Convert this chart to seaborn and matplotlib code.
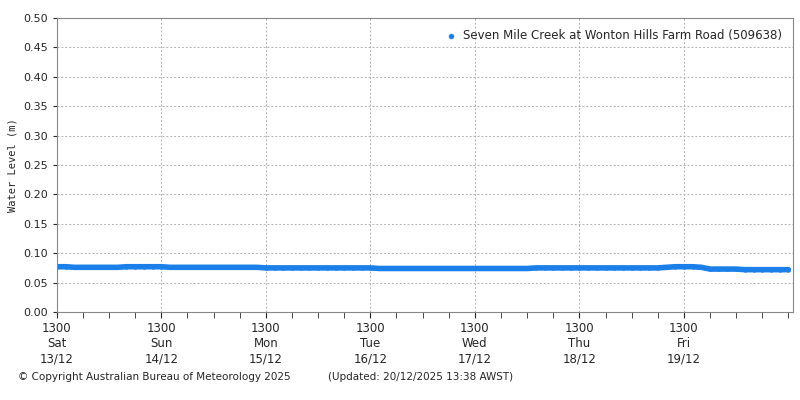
import numpy as np
import pandas as pd
import matplotlib
matplotlib.use("Agg")
import matplotlib.pyplot as plt
import matplotlib.dates as mdates
import seaborn as sns

sns.set_style("white")
plt.rcParams['font.family'] = ['DejaVu Sans']

start = "2025-12-13 13:00"
level_sat = [0.077,0.077,0.076,0.076,0.076,0.076,0.076,0.076,0.077,0.077,0.077,0.077]
level_sun = [0.077,0.076,0.076,0.076,0.076,0.076,0.076,0.076,0.076,0.076,0.076,0.076]
level_mon = [0.075,0.075,0.075,0.075,0.075,0.075,0.075,0.075,0.075,0.075,0.075,0.075]
level_tue = [0.075,0.074,0.074,0.074,0.074,0.074,0.074,0.074,0.074,0.074,0.074,0.074]
level_wed = [0.074,0.074,0.074,0.074,0.074,0.074,0.074,0.075,0.075,0.075,0.075,0.075]
level_thu = [0.075,0.075,0.075,0.075,0.075,0.075,0.075,0.075,0.075,0.075,0.076,0.077]
level_fri = [0.077,0.077,0.076,0.073,0.073,0.073,0.073,0.072,0.072,0.072,0.072,0.072]
level_end = [0.072]
series_name = "Seven Mile Creek at Wonton Hills Farm Road (509638)"

levels = level_sat+level_sun+level_mon+level_tue+level_wed+level_thu+level_fri+level_end
times = pd.date_range(start, periods=len(levels), freq="2h")
df = pd.DataFrame({"time": times, "level": levels})

fig, ax = plt.subplots(figsize=(8, 4), dpi=100)
fig.subplots_adjust(left=0.071, right=0.991, top=0.955, bottom=0.22)
col = "#1a7fe8"
sns.lineplot(data=df, x="time", y="level", ax=ax, color=col, linewidth=4, legend=False)
sns.scatterplot(data=df, x="time", y="level", ax=ax, color=col, s=8, edgecolor=col, label=series_name)

t0 = pd.Timestamp(start)
ax.set_xlim(t0, pd.Timestamp("2025-12-20 14:00"))
ax.set_ylim(0, 0.5)
ax.set_yticks(np.arange(0, 0.501, 0.05))
ax.set_yticklabels([f"{v:.2f}" for v in np.arange(0, 0.501, 0.05)], fontsize=8)
days = pd.date_range(t0, periods=7, freq="D")
ax.set_xticks(days)
ax.set_xticklabels([f"1300\n{d.strftime('%a')}\n{d.strftime('%d/%m')}" for d in days], fontsize=8.5)
ax.xaxis.set_minor_locator(mdates.HourLocator(byhour=[1,7,13,19]))
ax.tick_params(axis="x", which="both", direction="out", length=4, bottom=True)
ax.tick_params(axis="y", direction="out", length=3, left=True)
ax.grid(True, which="major", color="#b0b0b0", linestyle=(0, (2, 2)), linewidth=0.7)
for s in ax.spines.values():
    s.set_color("#888888")
ax.set_xlabel("")
ax.set_ylabel("Water Level (m)", fontsize=7.5, family="monospace")
leg = ax.legend(loc="upper right", frameon=False, fontsize=8.5, handletextpad=0.0, markerscale=1.3)
fig.text(0.022, 0.05, "© Copyright Australian Bureau of Meteorology 2025", fontsize=7.5)
fig.text(0.41, 0.05, "(Updated: 20/12/2025 13:38 AWST)", fontsize=7.5)
fig.savefig("out.png")
